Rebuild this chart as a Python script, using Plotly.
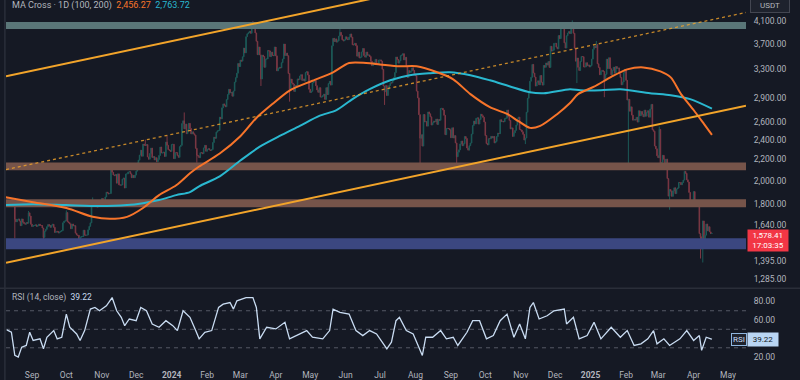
import numpy as np
import pandas as pd
import plotly.graph_objects as go

# ---------------- data ----------------
START_DATE = "2023-08-09"
FIRST_OPEN = 1855

close_2023_08 = [1854, 1850, 1847, 1850, 1843, 1842, 1826, 1806, 1682, 1663, 1681, 1683, 1668, 1634, 1684, 1660,
                 1651, 1645, 1657, 1652, 1731, 1706, 1645]
close_2023_09 = [1628, 1636, 1636, 1640, 1629, 1633, 1645, 1635, 1635, 1617, 1550, 1593, 1607, 1626, 1642, 1635,
                 1622, 1637, 1644, 1622, 1585, 1593, 1592, 1581, 1588, 1593, 1598, 1655, 1667, 1671]
close_2023_10 = [1733, 1663, 1656, 1647, 1612, 1646, 1632, 1634, 1580, 1567, 1565, 1539, 1551, 1556, 1556, 1601,
                 1566, 1565, 1567, 1604, 1629, 1655, 1785, 1788, 1786, 1803, 1778, 1777, 1795, 1810, 1815]
close_2023_11 = [1846, 1801, 1831, 1859, 1899, 1893, 1885, 1888, 2121, 2077, 2052, 2046, 2055, 1978, 2062, 1963,
                 1960, 1962, 2014, 2023, 1935, 2061, 2063, 2080, 2083, 2062, 2027, 2048, 2027, 2051]
close_2023_12 = [2087, 2165, 2193, 2243, 2293, 2232, 2357, 2344, 2343, 2352, 2225, 2202, 2260, 2315, 2220, 2228,
                 2196, 2217, 2177, 2200, 2240, 2326, 2265, 2266, 2273, 2230, 2378, 2344, 2299, 2292, 2281]
close_2024_01 = [2352, 2355, 2208, 2269, 2268, 2240, 2221, 2330, 2344, 2584, 2617, 2524, 2578, 2470, 2510, 2587,
                 2528, 2467, 2490, 2469, 2454, 2313, 2242, 2235, 2218, 2268, 2267, 2258, 2317, 2344, 2282]
close_2024_02 = [2303, 2309, 2296, 2290, 2300, 2373, 2431, 2420, 2487, 2502, 2506, 2659, 2640, 2774, 2823, 2806,
                 2787, 2879, 2944, 3014, 2966, 2973, 2923, 2992, 3113, 3176, 3241, 3385, 3340]
close_2024_03 = [3436, 3421, 3488, 3627, 3551, 3818, 3868, 3887, 3912, 3877, 4066, 3981, 4004, 3883, 3740, 3522,
                 3645, 3518, 3158, 3514, 3493, 3328, 3453, 3455, 3588, 3582, 3491, 3561, 3510, 3506, 3645]
close_2024_04 = [3503, 3275, 3311, 3326, 3319, 3397, 3454, 3694, 3508, 3546, 3505, 3237, 3008, 3156, 3101, 3084,
                 2986, 3066, 3053, 3158, 3147, 3200, 3219, 3137, 3157, 3128, 3250, 3263, 3214, 3015]
close_2024_05 = [2972, 2988, 3103, 3118, 3136, 3064, 3006, 2974, 3036, 2911, 2912, 2929, 2950, 2881, 3037, 2945,
                 3093, 3124, 3072, 3664, 3790, 3736, 3780, 3726, 3747, 3826, 3893, 3842, 3766, 3747, 3762]
close_2024_06 = [3815, 3781, 3768, 3812, 3865, 3810, 3682, 3681, 3706, 3666, 3498, 3561, 3470, 3482, 3565, 3621,
                 3509, 3483, 3563, 3513, 3518, 3493, 3419, 3352, 3396, 3371, 3448, 3377, 3376, 3437]
close_2024_07 = [3440, 3420, 3298, 3059, 2982, 3065, 2932, 3017, 3067, 3103, 3102, 3131, 3175, 3249, 3485, 3446,
                 3391, 3427, 3506, 3515, 3537, 3440, 3480, 3337, 3178, 3278, 3250, 3271, 3320, 3282, 3231]
close_2024_08 = [3203, 2990, 2901, 2690, 2420, 2458, 2336, 2692, 2604, 2610, 2555, 2723, 2700, 2664, 2568, 2593,
                 2614, 2606, 2637, 2575, 2631, 2623, 2765, 2768, 2747, 2682, 2459, 2528, 2529, 2526, 2513]
close_2024_09 = [2425, 2536, 2423, 2448, 2369, 2227, 2273, 2297, 2359, 2389, 2340, 2361, 2438, 2417, 2316, 2294,
                 2340, 2368, 2465, 2561, 2614, 2581, 2647, 2652, 2579, 2632, 2695, 2677, 2658, 2602]
close_2024_10 = [2449, 2363, 2349, 2415, 2414, 2440, 2423, 2439, 2370, 2385, 2438, 2476, 2470, 2629, 2607, 2611,
                 2605, 2642, 2648, 2747, 2666, 2622, 2524, 2535, 2440, 2480, 2507, 2567, 2639, 2660, 2518]
close_2024_11 = [2511, 2490, 2462, 2400, 2422, 2720, 2895, 2963, 3126, 3182, 3371, 3243, 3186, 3059, 3107, 3132,
                 3076, 3207, 3111, 3072, 3355, 3327, 3393, 3361, 3415, 3326, 3657, 3579, 3593, 3705]
close_2024_12 = [3706, 3643, 3615, 3837, 3785, 4002, 3998, 4005, 3714, 3628, 3834, 3880, 3907, 3871, 3959, 3987,
                 3877, 3625, 3421, 3470, 3328, 3280, 3417, 3493, 3490, 3334, 3333, 3397, 3351, 3361, 3334]
close_2025_01 = [3354, 3452, 3608, 3657, 3635, 3687, 3381, 3326, 3219, 3268, 3282, 3265, 3137, 3224, 3451, 3310,
                 3474, 3306, 3216, 3283, 3328, 3241, 3339, 3310, 3318, 3233, 3180, 3077, 3115, 3248, 3298]
close_2025_02 = [3138, 2872, 2882, 2733, 2786, 2685, 2624, 2632, 2626, 2658, 2602, 2737, 2676, 2729, 2693, 2665,
                 2745, 2672, 2716, 2738, 2660, 2760, 2817, 2514, 2497, 2337, 2308, 2237]
close_2025_03 = [2217, 2518, 2151, 2171, 2241, 2202, 2141, 2203, 2019, 1866, 1922, 1908, 1864, 1911, 1937, 1887,
                 1926, 1934, 1984, 1983, 1964, 1983, 2005, 2085, 2067, 2008, 1988, 1897, 1828, 1788, 1822]
close_2025_04 = [1904, 1796, 1815, 1817, 1808, 1577, 1554, 1473, 1669, 1522, 1566, 1646, 1597, 1626, 1589, 1577,
                 1578.41]

wick_highs = {"2023-08-17": 1806, "2023-08-29": 1745, "2023-10-01": 1750, "2023-10-24": 1855,
              "2023-11-09": 2136, "2023-12-09": 2404, "2023-12-28": 2446, "2024-01-12": 2717,
              "2024-03-12": 4093, "2024-05-27": 3977, "2024-12-16": 4107, "2025-01-06": 3745,
              "2025-03-02": 2550}
wick_lows = {"2023-08-17": 1543, "2023-09-11": 1531, "2023-10-12": 1521, "2024-01-23": 2168,
             "2024-03-19": 3060, "2024-04-13": 2852, "2024-07-05": 2810, "2024-08-05": 2111,
             "2024-09-06": 2150, "2024-11-05": 2357, "2024-12-20": 3100, "2025-01-13": 2910,
             "2025-02-03": 2120, "2025-03-11": 1755, "2025-04-07": 1410, "2025-04-09": 1385}

ma100_dates = ["2023-08-09", "2023-09-02", "2023-10-01", "2023-10-24", "2023-11-08", "2023-11-23", "2023-12-07",
               "2023-12-21", "2024-01-05", "2024-01-17", "2024-01-25", "2024-02-12", "2024-03-01", "2024-03-15",
               "2024-03-29", "2024-04-13", "2024-05-03", "2024-05-21", "2024-06-04", "2024-06-19", "2024-07-01",
               "2024-07-18", "2024-08-02", "2024-08-20", "2024-09-03", "2024-09-18", "2024-10-05", "2024-10-20",
               "2024-10-30", "2024-11-09", "2024-11-18", "2024-12-03", "2024-12-14", "2024-12-21", "2025-01-04",
               "2025-01-19", "2025-02-02", "2025-02-16", "2025-03-03", "2025-03-12", "2025-03-21", "2025-04-01",
               "2025-04-10", "2025-04-17"]
ma100_values = [1857, 1816, 1769, 1700, 1685, 1700, 1769, 1874, 1959, 2067, 2131, 2259, 2442, 2651, 2821, 2998,
                3133, 3254, 3392, 3392, 3371, 3342, 3342, 3254, 3153, 2950, 2783, 2699, 2612, 2535, 2558, 2699,
                2834, 2950, 3050, 3188, 3297, 3326, 3268, 3180, 2950, 2747, 2581, 2456.27]

ma200_dates = ["2023-08-09", "2023-09-02", "2023-10-01", "2023-10-30", "2023-11-23", "2023-12-07", "2023-12-21",
               "2024-01-05", "2024-01-17", "2024-01-25", "2024-02-12", "2024-03-01", "2024-03-18", "2024-04-04",
               "2024-04-22", "2024-05-09", "2024-05-24", "2024-06-07", "2024-06-22", "2024-07-10", "2024-07-27",
               "2024-08-14", "2024-08-31", "2024-09-18", "2024-10-05", "2024-10-22", "2024-11-09", "2024-11-21",
               "2024-12-14", "2024-12-23", "2025-01-10", "2025-01-27", "2025-02-22", "2025-03-12", "2025-03-29",
               "2025-04-17"]
ma200_values = [1792, 1800, 1792, 1784, 1792, 1808, 1833, 1874, 1900, 1950, 2039, 2189, 2330, 2442, 2558, 2675,
                2746, 2885, 3016, 3139, 3211, 3240, 3254, 3211, 3139, 3057, 2975, 2962, 3016, 3002, 3002, 3016,
                2962, 2936, 2885, 2763.72]

rsi_dates = ["2023-08-10", "2023-08-14", "2023-08-17", "2023-08-20", "2023-08-23", "2023-08-27", "2023-08-30",
             "2023-09-02", "2023-09-08", "2023-09-11", "2023-09-14", "2023-09-20", "2023-09-23", "2023-09-27",
             "2023-10-01", "2023-10-04", "2023-10-10", "2023-10-13", "2023-10-17", "2023-10-22", "2023-10-26",
             "2023-10-30", "2023-11-05", "2023-11-10", "2023-11-14", "2023-11-18", "2023-11-21", "2023-11-25",
             "2023-12-01", "2023-12-05", "2023-12-10", "2023-12-15", "2023-12-21", "2023-12-27", "2024-01-02",
             "2024-01-06", "2024-01-11", "2024-01-17", "2024-01-22", "2024-01-25", "2024-01-30", "2024-02-05",
             "2024-02-11", "2024-02-15", "2024-02-21", "2024-02-24", "2024-02-27", "2024-03-06", "2024-03-12",
             "2024-03-15", "2024-03-18", "2024-03-24", "2024-04-01", "2024-04-09", "2024-04-13", "2024-04-22",
             "2024-04-28", "2024-05-03", "2024-05-12", "2024-05-18", "2024-05-21", "2024-05-27", "2024-06-04",
             "2024-06-10", "2024-06-16", "2024-06-22", "2024-06-28", "2024-07-04", "2024-07-07", "2024-07-11",
             "2024-07-15", "2024-07-18", "2024-07-24", "2024-07-30", "2024-08-07", "2024-08-10", "2024-08-16",
             "2024-08-23", "2024-08-28", "2024-09-03", "2024-09-07", "2024-09-15", "2024-09-20", "2024-09-26",
             "2024-10-02", "2024-10-08", "2024-10-14", "2024-10-20", "2024-10-26", "2024-10-31", "2024-11-05",
             "2024-11-09", "2024-11-12", "2024-11-17", "2024-11-24", "2024-11-30", "2024-12-09", "2024-12-11",
             "2024-12-17", "2024-12-22", "2024-12-29", "2025-01-04", "2025-01-10", "2025-01-19", "2025-01-27",
             "2025-02-02", "2025-02-08", "2025-02-14", "2025-02-20", "2025-02-25", "2025-02-28", "2025-03-06",
             "2025-03-11", "2025-03-20", "2025-03-26", "2025-04-01", "2025-04-06", "2025-04-08", "2025-04-12",
             "2025-04-16", "2025-04-17"]
rsi_values = [49.3, 46.8, 21.8, 20.0, 30.7, 32.5, 46.8, 37.9, 39.7, 28.9, 41.4, 48.6, 39.7, 41.4, 66.4, 52.2,
              45.0, 37.9, 48.6, 71.8, 73.6, 70.0, 75.4, 84.3, 70.0, 62.9, 53.9, 61.1, 59.3, 73.6, 70.0, 55.7,
              52.2, 59.3, 53.9, 48.6, 70.0, 62.9, 48.6, 39.7, 46.8, 48.6, 73.6, 77.1, 78.9, 71.8, 80.7, 84.3,
              84.3, 73.6, 39.7, 52.2, 50.4, 57.5, 39.7, 45.0, 48.6, 41.4, 39.7, 48.6, 71.8, 68.2, 66.4, 48.6,
              43.2, 48.6, 45.0, 34.3, 28.9, 36.1, 59.3, 62.9, 48.6, 45.0, 21.8, 41.4, 41.4, 48.6, 39.7, 41.4,
              32.5, 46.8, 59.3, 59.3, 39.7, 43.2, 59.3, 66.4, 41.4, 55.7, 39.7, 73.6, 78.9, 61.1, 64.6, 70.0,
              71.8, 55.7, 62.9, 39.7, 43.2, 57.5, 39.7, 52.2, 41.4, 48.6, 32.5, 34.3, 39.7, 48.6, 34.3, 39.7,
              32.5, 39.7, 48.6, 37.9, 43.2, 27.2, 41.4, 39.7, 39.22]

zone_teal = (3950, 4080)
zone_brown_upper = (2095, 2170)
zone_brown_lower = (1775, 1840)
zone_blue = (1470, 1545)

x_range = ["2023-08-09 07:00", "2025-05-16 18:00"]
channel_dates = ["2023-08-09 07:00", "2025-05-16 18:00"]
channel_upper = [3196, 6470]
channel_mid = [2102, 4256]
channel_lower = [1383, 2800]

price_ticks = [4100, 3700, 3300, 2900, 2600, 2400, 2200, 2000, 1800, 1640, 1395, 1285]
rsi_ticks = [80, 60, 20]
rsi_levels = [70, 50, 30]
month_ticks = pd.date_range("2023-09-01", "2025-05-01", freq="MS")
month_labels = ["<b>%d</b>" % d.year if d.month == 1 else d.strftime("%b") for d in month_ticks]

# ---------------- build ----------------
closes = (close_2023_08 + close_2023_09 + close_2023_10 + close_2023_11 + close_2023_12 + close_2024_01 +
          close_2024_02 + close_2024_03 + close_2024_04 + close_2024_05 + close_2024_06 + close_2024_07 +
          close_2024_08 + close_2024_09 + close_2024_10 + close_2024_11 + close_2024_12 + close_2025_01 +
          close_2025_02 + close_2025_03 + close_2025_04)
dates = pd.date_range(START_DATE, periods=len(closes), freq="D")
opens = [FIRST_OPEN] + closes[:-1]
highs = [max(o, c) for o, c in zip(opens, closes)]
lows = [min(o, c) for o, c in zip(opens, closes)]
idx = {d.strftime("%Y-%m-%d"): i for i, d in enumerate(dates)}
for d, h in wick_highs.items():
    highs[idx[d]] = max(highs[idx[d]], h)
for d, l in wick_lows.items():
    lows[idx[d]] = min(lows[idx[d]], l)

BG = "#151924"
TXT = "#b2b5be"
FONT = "Roboto"
ORANGE_MA = "#f7742a"
CYAN_MA = "#2ab8d0"
CHANNEL = "#f2a42a"

fig = go.Figure()

# horizontal zones (filled bands across the full time range)
xr = pd.to_datetime(x_range)
for (lo, hi), col in [(zone_teal, "#5a7678"), (zone_brown_upper, "#76544a"), (zone_brown_lower, "#76544a"),
                      (zone_blue, "#3b4780")]:
    fig.add_trace(go.Scatter(x=[xr[0], xr[1], xr[1], xr[0], xr[0]], y=[lo, lo, hi, hi, lo],
                             mode="lines", fill="toself", fillcolor=col, line=dict(width=0, color=col),
                             xaxis="x", yaxis="y", hoverinfo="skip"))

fig.add_trace(go.Candlestick(
    x=dates, open=opens, high=highs, low=lows, close=closes,
    increasing=dict(line=dict(color="#22998a", width=1), fillcolor="#22998a"),
    decreasing=dict(line=dict(color="#e05563", width=1), fillcolor="#e05563"),
    opacity=0.5, whiskerwidth=0, xaxis="x", yaxis="y", hoverinfo="skip"))

fig.add_trace(go.Scatter(x=pd.to_datetime(ma200_dates), y=ma200_values, mode="lines",
                         line=dict(color=CYAN_MA, width=2, shape="spline", smoothing=0.8),
                         xaxis="x", yaxis="y", hoverinfo="skip"))
fig.add_trace(go.Scatter(x=pd.to_datetime(ma100_dates), y=ma100_values, mode="lines",
                         line=dict(color=ORANGE_MA, width=2, shape="spline", smoothing=0.8),
                         xaxis="x", yaxis="y", hoverinfo="skip"))

for vals, dash, w in [(channel_upper, "solid", 2), (channel_lower, "solid", 2), (channel_mid, "dot", 1.3)]:
    fig.add_trace(go.Scatter(x=pd.to_datetime(channel_dates), y=vals, mode="lines",
                             line=dict(color=CHANNEL, width=w, dash=dash),
                             opacity=1 if dash == "solid" else 0.8,
                             xaxis="x", yaxis="y", hoverinfo="skip"))

fig.add_trace(go.Scatter(x=pd.to_datetime(rsi_dates), y=rsi_values, mode="lines",
                         line=dict(color="#c9dcf2", width=1.3),
                         xaxis="x", yaxis="y2", hoverinfo="skip"))

shapes = []
for lv in rsi_levels:
    shapes.append(dict(type="line", xref="paper", yref="y2", x0=0, x1=1, y0=lv, y1=lv,
                       line=dict(color="#555965", width=1, dash="4px,4px"), layer="below"))
MAIN_BOTTOM = 0.2098
shapes.append(dict(type="line", xref="paper", yref="paper", x0=-0.01, x1=1.08, y0=0.2084, y1=0.2084,
                   line=dict(color="#2a2e39", width=1.5)))
shapes.append(dict(type="line", xref="paper", yref="paper", x0=-0.0015, x1=-0.0015, y0=-0.05, y1=1.01,
                   line=dict(color="#2a2e39", width=1.5)))

annotations = [
    dict(xref="paper", yref="paper", x=0.0054, y=0.984, xanchor="left", yanchor="middle", showarrow=False,
         text="MA Cross · 1D (100, 200)  <span style='color:%s'>2,456.27</span>  "
              "<span style='color:%s'>2,763.72</span>" % (ORANGE_MA, CYAN_MA),
         font=dict(family=FONT, size=9, color=TXT)),
    dict(xref="paper", yref="paper", x=1.0324, y=0.985, xanchor="center", yanchor="middle", showarrow=False,
         text="USDT", font=dict(family=FONT, size=8, color=TXT), bgcolor="#1e222d",
         bordercolor="#434651", borderwidth=1, borderpad=2, width=34),
    dict(xref="paper", yref="y", x=1.0014, y=np.log10(closes[-1]), xanchor="left", yanchor="top", yshift=4,
         showarrow=False, text="%s<br>17:03:35" % f"{closes[-1]:,.2f}",
         font=dict(family=FONT, size=8, color="white"), bgcolor="#f23645", borderpad=1, width=38),
    dict(xref="paper", yref="paper", x=0.0054, y=0.1826, xanchor="left", yanchor="middle", showarrow=False,
         text="RSI (14, close)  <span style='color:#c9dcf2'>%.2f</span>" % rsi_values[-1],
         font=dict(family=FONT, size=8.5, color=TXT)),
    dict(xref="paper", yref="y2", x=1.0014, y=rsi_values[-1], xanchor="right", yanchor="middle", showarrow=False,
         text="RSI", font=dict(family=FONT, size=8, color="#c9dcf2"), bgcolor="#1e222d",
         bordercolor="#8fb6df", borderwidth=1, borderpad=1),
    dict(xref="paper", yref="y2", x=1.0014, y=rsi_values[-1], xanchor="left", yanchor="middle", showarrow=False,
         text="%.2f" % rsi_values[-1], font=dict(family=FONT, size=8, color="#131722"), bgcolor="#b9d5f3",
         borderpad=2, width=26),
]

tickfont = dict(family=FONT, size=8.5, color=TXT)
fig.update_layout(
    width=800, height=380, margin=dict(l=6, r=54, t=0, b=13),
    paper_bgcolor=BG, plot_bgcolor=BG, showlegend=False, hovermode=False,
    xaxis=dict(type="date", range=x_range, domain=[0, 1], anchor="y2",
               showgrid=False, zeroline=False, showline=False, ticks="outside", ticklen=3, tickcolor=BG,
               tickvals=month_ticks, ticktext=month_labels, tickfont=tickfont,
               rangeslider=dict(visible=False), fixedrange=True),
    yaxis=dict(type="log", domain=[MAIN_BOTTOM, 1], range=[3.0924, 3.6534], side="right", anchor="x",
               tickvals=price_ticks, ticktext=[f"{v:,.2f}" for v in price_ticks], showgrid=False,
               zeroline=False, showline=False, ticks="outside", ticklen=5, tickcolor=BG, tickfont=tickfont),
    yaxis2=dict(domain=[0, 0.2071], range=[12.5, 93.93], side="right", anchor="x", tickvals=rsi_ticks,
                ticktext=[f"{v:.2f}" for v in rsi_ticks], showgrid=False, zeroline=False, showline=False,
                ticks="outside", ticklen=5, tickcolor=BG, tickfont=tickfont),
    shapes=shapes, annotations=annotations,
)

fig.write_html("out.html", config={"displayModeBar": False, "staticPlot": True},
               post_script="document.body.style.margin='0px';"
                           "document.body.style.background='%s';" % BG)
